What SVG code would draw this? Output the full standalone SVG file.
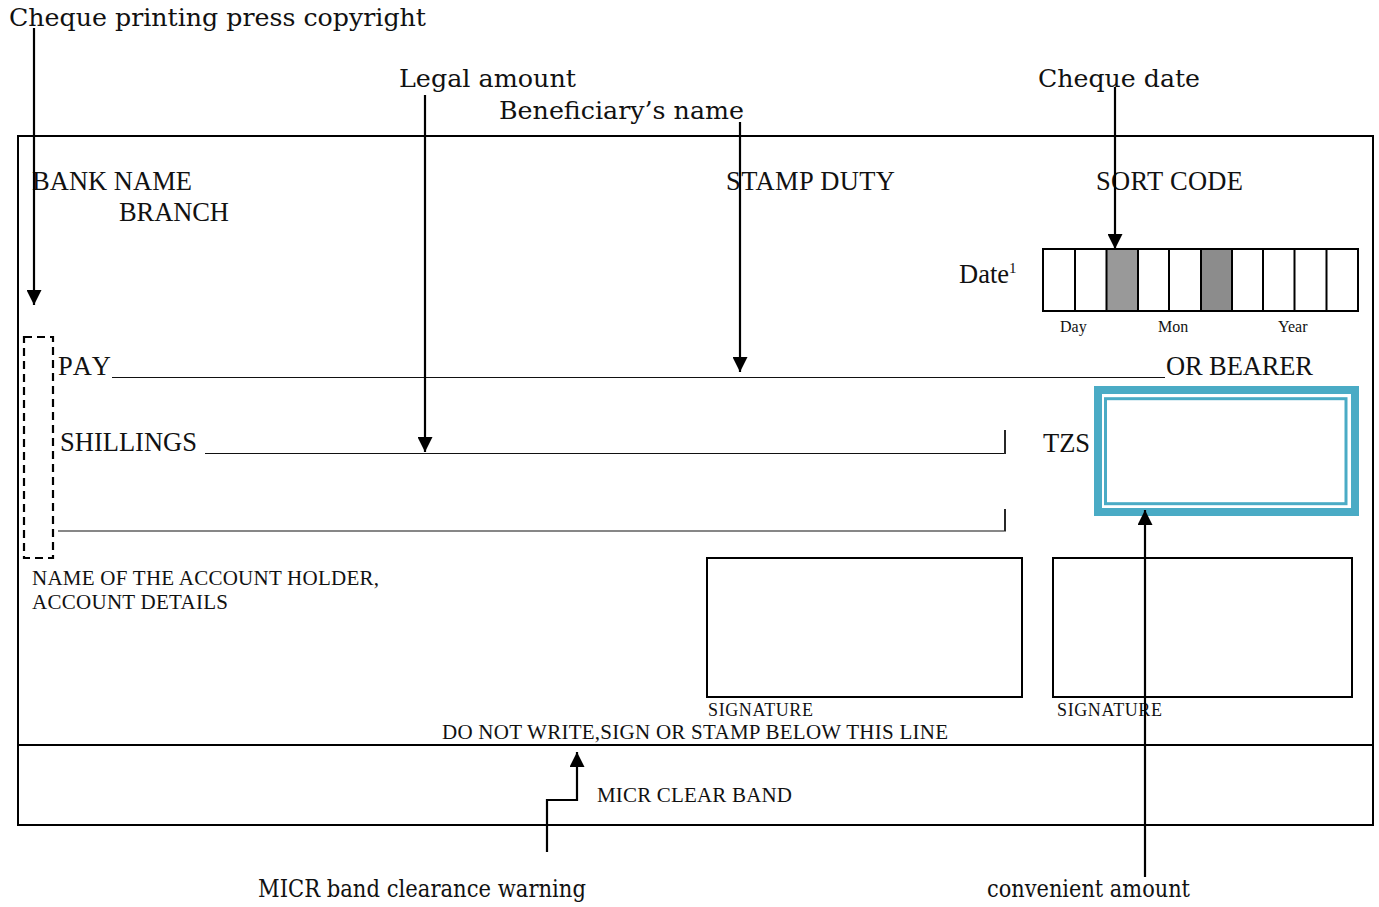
<svg xmlns="http://www.w3.org/2000/svg" width="1379" height="907" viewBox="0 0 1379 907">
<defs>
<style>
.lbl{font-family:"DejaVu Serif","Liberation Serif",serif;font-size:24px;fill:#111}
.tx{font-family:"Liberation Serif","Times New Roman",serif;fill:#111}
.big{font-size:26.5px}
.mid{font-size:21px}
.sml{font-size:18px}
.tiny{font-size:16px}
.frame{fill:none;stroke:#000;stroke-width:2}
.ul{stroke:#111;stroke-width:1.2}
.conn{fill:none;stroke:#000;stroke-width:2.2}
</style>
<marker id="ah" viewBox="0 0 15 15" refX="15" refY="7.5" markerWidth="15" markerHeight="15" markerUnits="userSpaceOnUse" orient="auto">
<path d="M0,0 L15,7.5 L0,15 z" fill="#000"/>
</marker>
</defs>
<rect width="1379" height="907" fill="#fff"/>

<g id="cheque">
<rect class="frame" x="18" y="136" width="1355" height="689"/>
<line class="frame" x1="18" y1="745" x2="1373" y2="745"/>
<text class="tx big" x="32" y="190" textLength="160">BANK NAME</text>
<text class="tx big" x="119" y="221" textLength="110">BRANCH</text>
<text class="tx big" x="726" y="190" textLength="169">STAMP DUTY</text>
<text class="tx big" x="1096" y="190" textLength="147">SORT CODE</text>
</g>

<g id="date">
<text class="tx big" x="959" y="283">Date<tspan font-size="15" dy="-10">1</tspan></text>
<rect x="1106.5" y="249" width="31.5" height="62" fill="#999"/>
<rect x="1201" y="249" width="31" height="62" fill="#8c8c8c"/>
<rect class="frame" x="1043" y="249" width="315" height="62"/>
<path class="frame" d="M1075,249V311M1106.5,249V311M1138,249V311M1169,249V311M1201,249V311M1232,249V311M1263,249V311M1294.5,249V311M1326.5,249V311"/>
<text class="tx tiny" x="1060" y="332">Day</text>
<text class="tx tiny" x="1158" y="332">Mon</text>
<text class="tx tiny" x="1278" y="332">Year</text>
</g>

<g id="dashed-zone">
<rect x="24" y="337" width="29" height="221" fill="none" stroke="#000" stroke-width="2.2" stroke-dasharray="8,5"/>
</g>

<g id="pay">
<text class="tx big" x="58" y="375" textLength="53">PAY</text>
<line class="ul" x1="112" y1="377.5" x2="1165" y2="377.5"/>
<text class="tx big" x="1166" y="375" textLength="147">OR BEARER</text>
</g>

<g id="shillings">
<text class="tx big" x="60" y="451" textLength="137">SHILLINGS</text>
<line class="ul" x1="205" y1="453.5" x2="1004" y2="453.5"/>
<line x1="1005" y1="430" x2="1005" y2="454" stroke="#111" stroke-width="1.8"/>
<line class="ul" x1="58" y1="531" x2="1004" y2="531"/>
<line x1="1005" y1="509" x2="1005" y2="531.5" stroke="#111" stroke-width="1.8"/>
</g>

<g id="amount-box">
<text class="tx big" x="1043" y="452" textLength="47">TZS</text>
<rect x="1098" y="390" width="257" height="122" fill="none" stroke="#4aabc5" stroke-width="8"/>
<rect x="1105.5" y="398.7" width="240.5" height="105" fill="none" stroke="#4aabc5" stroke-width="3"/>
</g>

<g id="holder">
<text class="tx mid" x="32" y="585" textLength="347">NAME OF THE ACCOUNT HOLDER,</text>
<text class="tx mid" x="32" y="609" textLength="196">ACCOUNT DETAILS</text>
</g>

<g id="signature1">
<rect class="frame" x="707" y="558" width="315" height="139"/>
<text class="tx sml" x="708" y="716" textLength="105">SIGNATURE</text>
</g>
<g id="signature2">
<rect class="frame" x="1053" y="558" width="299" height="139"/>
<text class="tx sml" x="1057" y="716" textLength="105">SIGNATURE</text>
</g>

<g id="micr">
<text class="tx mid" x="442" y="739" textLength="506">DO NOT WRITE,SIGN OR STAMP BELOW THIS LINE</text>
<text class="tx mid" x="597" y="802" textLength="195">MICR CLEAR BAND</text>
</g>

<g id="labels">
<text class="lbl" x="9" y="26" textLength="417" lengthAdjust="spacingAndGlyphs">Cheque printing press copyright</text>
<text class="lbl" x="399" y="87" textLength="177" lengthAdjust="spacingAndGlyphs">Legal amount</text>
<text class="lbl" x="499" y="119" textLength="245" lengthAdjust="spacingAndGlyphs">Beneficiary’s name</text>
<text class="lbl" x="1038" y="87" textLength="162" lengthAdjust="spacingAndGlyphs">Cheque date</text>
<text class="lbl" x="258" y="897" textLength="328" lengthAdjust="spacingAndGlyphs">MICR band clearance warning</text>
<text class="lbl" x="987" y="897" textLength="203" lengthAdjust="spacingAndGlyphs">convenient amount</text>
</g>

<g id="connectors">
<path class="conn" d="M34,28 V305" marker-end="url(#ah)"/>
<path class="conn" d="M425,95 V452" marker-end="url(#ah)"/>
<path class="conn" d="M740,122 V372" marker-end="url(#ah)"/>
<path class="conn" d="M1115,87 V249" marker-end="url(#ah)"/>
<path class="conn" d="M1145,877 V510" marker-end="url(#ah)"/>
<path class="conn" d="M547,852 V800 H577 V752" marker-end="url(#ah)"/>
</g>
</svg>
